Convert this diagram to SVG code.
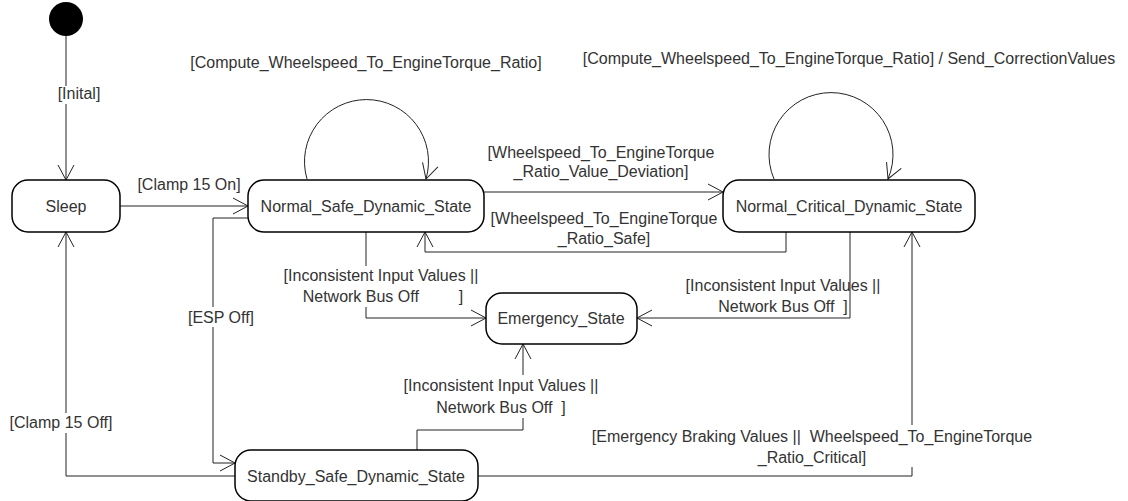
<svg xmlns="http://www.w3.org/2000/svg" width="1128" height="501" viewBox="0 0 1128 501">
  <style>
    text { font-family: "Liberation Sans", Arial, sans-serif; font-size: 16px; fill: #333; }
    .mid { text-anchor: middle; }
    .state { fill: #fff; stroke: #000; stroke-width: 1.5; }
    .edge { fill: none; stroke: #222; stroke-width: 1; marker-end: url(#open); }
    .bg { fill: #fff; }
  </style>
  <defs>
    <marker id="open" markerUnits="userSpaceOnUse" markerWidth="20" markerHeight="20" viewBox="-16 -10 20 20" refX="0" refY="0" orient="auto">
      <path d="M -15 -8 L 0 0 L -15 8" fill="none" stroke="#222" stroke-width="1"/>
    </marker>
  </defs>

  <!-- transitions -->
  <g id="connectors">
    <path class="edge" d="M66,36 L66,180"/>
    <path class="edge" d="M120,206 L248,206"/>
    <path class="edge" d="M248,218 L213,218 L213,463 L235,463"/>
    <path class="edge" d="M235,476 L66,476 L66,232"/>
    <path class="edge" d="M484,192 L723,192"/>
    <path class="edge" d="M786,232 L786,252 L425,252 L425,232"/>
    <path class="edge" d="M366,232 L366,318 L486,318"/>
    <path class="edge" d="M850,232 L850,318 L637,318"/>
    <path class="edge" d="M417,450 L417,430 L523,430 L523,344"/>
    <path class="edge" d="M478,476 L912,476 L912,232"/>
    <path class="edge" d="M307,179 A62,62 0 1 1 426,179"/>
    <path class="edge" d="M774,179 A62,62 0 1 1 888,179"/>
  </g>

  <!-- transition labels -->
  <g id="labels">
    <rect class="bg" x="57" y="86" width="44" height="18"/>
    <text class="mid" x="79" y="99">[Inital]</text>

    <text class="mid" x="189" y="190">[Clamp 15 On]</text>

    <rect class="bg" x="187" y="307" width="68" height="20"/>
    <text class="mid" x="221" y="323">[ESP Off]</text>

    <rect class="bg" x="9" y="413" width="105" height="20"/>
    <text class="mid" x="61" y="428">[Clamp 15 Off]</text>

    <text class="mid" x="366" y="68">[Compute_Wheelspeed_To_EngineTorque_Ratio]</text>
    <text class="mid" x="849" y="64">[Compute_Wheelspeed_To_EngineTorque_Ratio] / Send_CorrectionValues</text>

    <text class="mid" x="601" y="158">[Wheelspeed_To_EngineTorque</text>
    <text class="mid" x="601" y="177">_Ratio_Value_Deviation]</text>

    <text class="mid" x="604" y="224">[Wheelspeed_To_EngineTorque</text>
    <text class="mid" x="604" y="244">_Ratio_Safe]</text>

    <rect class="bg" x="280" y="266" width="202" height="41"/>
    <text class="mid" x="381" y="281">[Inconsistent Input Values ||</text>
    <text class="mid" x="383" y="302" xml:space="preserve">Network Bus Off         ]</text>

    <text class="mid" x="783" y="291">[Inconsistent Input Values ||</text>
    <text class="mid" x="783" y="312" xml:space="preserve">Network Bus Off  ]</text>

    <rect class="bg" x="400" y="375" width="202" height="43"/>
    <text class="mid" x="501" y="391">[Inconsistent Input Values ||</text>
    <text class="mid" x="501" y="413" xml:space="preserve">Network Bus Off  ]</text>

    <rect class="bg" x="588" y="425" width="450" height="42"/>
    <text class="mid" x="812" y="442" xml:space="preserve">[Emergency Braking Values ||  Wheelspeed_To_EngineTorque</text>
    <text class="mid" x="812" y="463">_Ratio_Critical]</text>
  </g>

  <!-- states -->
  <g id="initial">
    <circle cx="66" cy="19" r="17" fill="#000"/>
  </g>
  <g id="sleep">
    <rect class="state" x="12" y="180" width="108" height="52" rx="16"/>
    <text class="mid" x="66" y="212">Sleep</text>
  </g>
  <g id="normal-safe">
    <rect class="state" x="248" y="180" width="236" height="52" rx="16"/>
    <text class="mid" x="366" y="212">Normal_Safe_Dynamic_State</text>
  </g>
  <g id="normal-critical">
    <rect class="state" x="723" y="180" width="252" height="52" rx="16"/>
    <text class="mid" x="849" y="212">Normal_Critical_Dynamic_State</text>
  </g>
  <g id="emergency">
    <rect class="state" x="486" y="293" width="151" height="51" rx="16"/>
    <text class="mid" x="561" y="324">Emergency_State</text>
  </g>
  <g id="standby">
    <rect class="state" x="235" y="450" width="243" height="51" rx="16"/>
    <text class="mid" x="356" y="482">Standby_Safe_Dynamic_State</text>
  </g>
</svg>
